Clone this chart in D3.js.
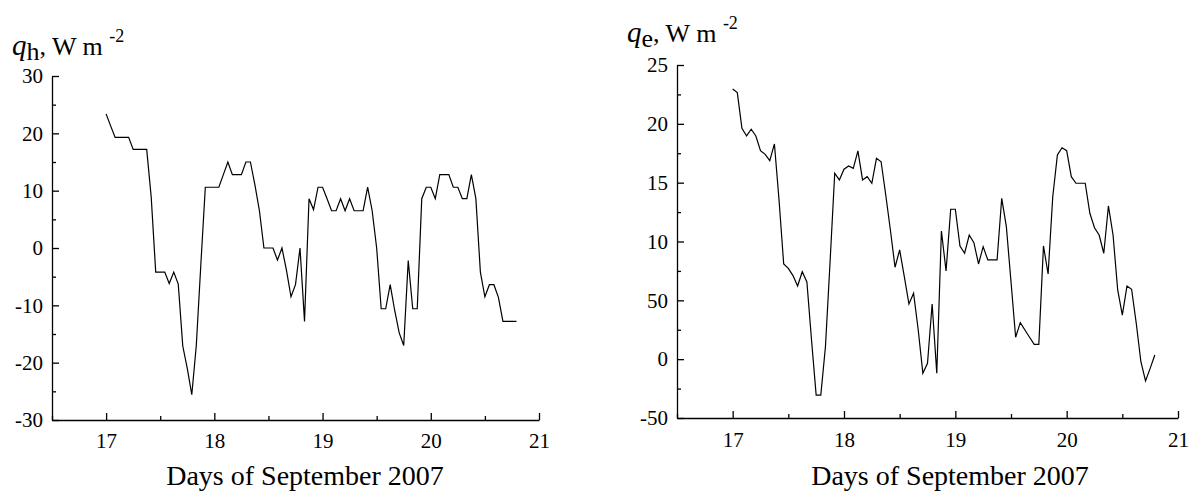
<!DOCTYPE html>
<html>
<head>
<meta charset="utf-8">
<script src="https://cdn.jsdelivr.net/npm/d3@7"></script>
<style>
  body { margin: 0; background: #fff; }
  svg, svg text { font-family: "Times New Roman", "Liberation Serif", serif; }
</style>
</head>
<body>
<svg id="chart" width="1194" height="492"></svg>
<script>
// hourly values starting 17 Sep 00:00
const startDay = 17;
const stepPerDay = 24;

// sensible heat flux, W m-2
const qh = [
  23.4, 21.3, 19.3, 19.3, 19.3, 19.3, 17.2, 17.2, 17.2, 17.2,
  8.9, -4.2, -4.2, -4.2, -6.2, -4.2, -6.3, -17.1, -21, -25.6,
  -17, -3, 10.6, 10.6, 10.6, 10.6, 12.8, 15, 12.8, 12.8,
  12.8, 15, 15, 11, 6.5, 0, 0, 0, -2.1, 0,
  -3.9, -8.5, -6.4, 0, -12.8, 8.6, 6.7, 10.6, 10.6, 8.6,
  6.5, 6.5, 8.6, 6.5, 8.6, 6.5, 6.5, 6.5, 10.6, 6.5,
  0, -10.6, -10.6, -6.4, -10.9, -14.8, -17, -2.2, -10.6, -10.6,
  8.6, 10.6, 10.6, 8.6, 12.8, 12.8, 12.8, 10.6, 10.6, 8.6,
  8.6, 12.8, 8.6, -4.2, -8.5, -6.4, -6.4, -8.6, -12.8, -12.8,
  -12.8, -12.8
];

// latent heat flux, W m-2
const qe = [
  229.6, 226.5, 196.2, 189.7, 195.4, 189.7, 177.2, 174.1, 168.7, 182.9,
  135, 80.9, 77.2, 71, 62.2, 74.3, 65.6, 16.3, -30.5, -30.5,
  10.6, 82.8, 158, 152.3, 161.4, 164.2, 162.2, 177, 152.3, 155.1,
  149.5, 170.7, 167.8, 139.5, 109.8, 78.1, 92.8, 70.1, 46.9, 56,
  24.8, -12, -3.5, 46.9, -12, 108.9, 74.9, 127.4, 127.4, 96.2,
  90, 105.5, 99, 80.9, 95.6, 84.3, 84.3, 84.3, 136.7, 112.6,
  65.8, 18.6, 31, 24.8, 18.6, 12.6, 12.6, 96.2, 72.4, 138,
  173.5, 179.7, 177.2, 155.1, 149.5, 149.5, 149.5, 124, 111.7, 105.5,
  90, 130.2, 105.5, 58.8, 37.5, 62.2, 59.4, 30.5, -2.2, -18.5,
  -7.8, 3.5
];

const dayTicks = [17, 18, 19, 20, 21];
const dayMinorTicks = [16.5, 17.5, 18.5, 19.5, 20.5];

const qhTicks = [-30, -20, -10, 0, 10, 20, 30];
const qhMinorTicks = [-25, -15, -5, 5, 15, 25];

const qeTicks = [-50, 0, 50, 100, 150, 200, 250];
const qeTickLabels = ["-50", "0", "50", "10", "15", "20", "25"];
const qeMinorTicks = [-25, 25, 75, 125, 175, 225];

const xTitle = "Days of September 2007";

const svg = d3.select("#chart");
const serif = '"Times New Roman", "Liberation Serif", serif';

function drawPanel(p) {
    const g = svg.append("g");

    const x = d3.scaleLinear().domain([16.5, 21]).range([p.left, p.right]);
    const y = d3.scaleLinear().domain(p.yDomain).range([p.bottom, p.top]);

    // minor ticks first
    g.append("g")
        .attr("transform", `translate(0,${p.bottom})`)
        .call(d3.axisBottom(x).tickValues(dayMinorTicks).tickSize(-4).tickFormat(""))
        .call(a => a.select(".domain").remove());
    g.append("g")
        .attr("transform", `translate(${p.left},0)`)
        .call(d3.axisLeft(y).tickValues(p.yMinor).tickSize(-4).tickFormat(""))
        .call(a => a.select(".domain").remove());

    g.append("g")
        .attr("transform", `translate(0,${p.bottom})`)
        .call(d3.axisBottom(x).tickValues(dayTicks).tickSizeInner(-7).tickSizeOuter(0)
            .tickPadding(p.xPad).tickFormat(d => String(d)));

    g.append("g")
        .attr("transform", `translate(${p.left},0)`)
        .call(d3.axisLeft(y).tickValues(p.yTicks).tickSizeInner(-7).tickSizeOuter(0)
            .tickPadding(9).tickFormat(p.yFormat));

    g.selectAll(".tick text")
        .style("font-family", serif)
        .style("font-size", "21px")
        .attr("fill", "#000");

    g.selectAll(".domain, .tick line")
        .attr("stroke", "#000")
        .attr("stroke-width", 1.3);

    const line = d3.line()
        .x((d, i) => x(startDay + i / stepPerDay))
        .y(d => y(d));

    g.append("path")
        .datum(p.values)
        .attr("fill", "none")
        .attr("stroke", "#000")
        .attr("stroke-width", 1.2)
        .attr("d", line);

    // x axis title
    g.append("text")
        .attr("x", p.titleX)
        .attr("y", p.titleY)
        .attr("text-anchor", "middle")
        .style("font-size", "28px")
        .text(xTitle);

    // y axis label: q_sub, W m^-2
    const lab = g.append("text")
        .attr("x", p.labelX)
        .attr("y", p.labelY)
        .style("font-size", "26px");
    lab.append("tspan").style("font-style", "italic").style("font-size", "29px").text("q");
    lab.append("tspan").attr("dy", 5).text(p.sub);
    lab.append("tspan").attr("dy", -5).text(", W m ");
    lab.append("tspan").attr("dy", -13).style("font-size", "18px").text("-2");
}

drawPanel({
    left: 52, right: 539, top: 76, bottom: 420,
    yDomain: [-30, 30], yTicks: qhTicks, yMinor: qhMinorTicks,
    yFormat: d => String(d),
    values: qh, xPad: 13,
    titleX: 305, titleY: 485,
    labelX: 12, labelY: 55, sub: "h"
});

drawPanel({
    left: 677, right: 1178, top: 65, bottom: 418,
    yDomain: [-50, 250], yTicks: qeTicks, yMinor: qeMinorTicks,
    yFormat: d => qeTickLabels[qeTicks.indexOf(d)],
    values: qe, xPad: 14,
    titleX: 950, titleY: 485,
    labelX: 627, labelY: 42, sub: "e"
});
</script>
</body>
</html>
